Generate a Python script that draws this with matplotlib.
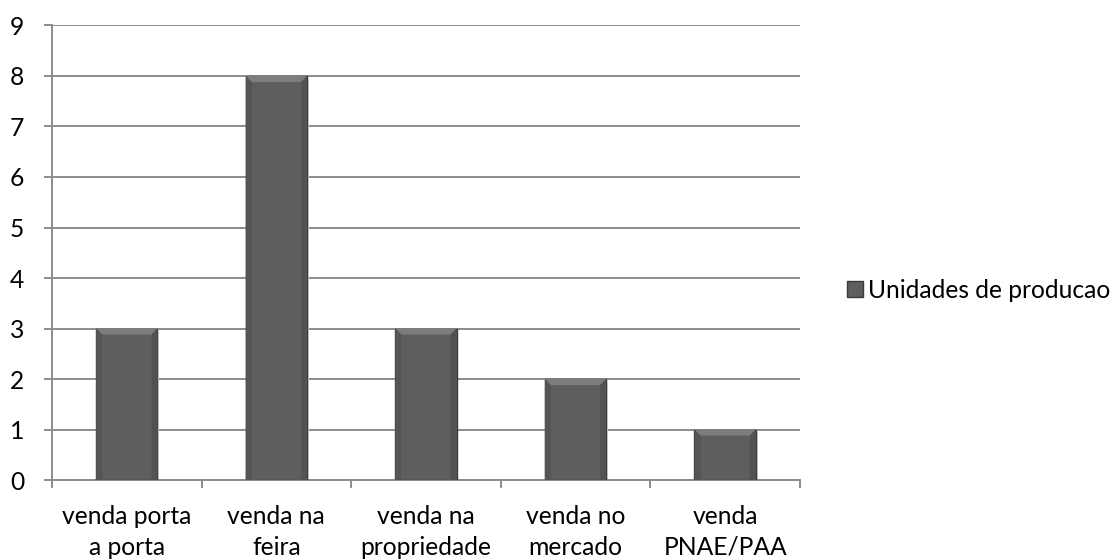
import matplotlib
matplotlib.use("Agg")
import matplotlib.pyplot as plt
from matplotlib.patches import Polygon
from matplotlib.lines import Line2D
import numpy as np

categories = ["venda porta\na porta", "venda na\nfeira", "venda na\npropriedade",
              "venda no\nmercado", "venda\nPNAE/PAA"]
values = [3, 8, 3, 2, 1]
series_name = "Unidades de producao"
y_ticks = list(range(0, 10))

plt.rcParams['font.family'] = ['Lato', 'DejaVu Sans']
FS = 17.7

fig = plt.figure(figsize=(11.11, 5.59), dpi=100)
ax = fig.add_axes([0.0468, 0.1413, 0.6732, 0.8131])

grid_c = "#8c8c8c"
x = np.arange(len(categories))
bar_w = 0.41
bars = ax.bar(x, values, width=bar_w, color="#5e5e5e", edgecolor="#3a3a3a",
              linewidth=1.0, zorder=3)

# Bevel highlight on each bar top and slightly darker sides
bx, by = 0.04, 0.12
for b in bars:
    x0, w, h = b.get_x(), b.get_width(), b.get_height()
    x1 = x0 + w
    top = Polygon([[x0, h], [x1, h], [x1 - bx, h - by], [x0 + bx, h - by]],
                  closed=True, facecolor="#7d7d7d", edgecolor="none", zorder=4)
    left = Polygon([[x0, 0], [x0, h], [x0 + bx, h - by], [x0 + bx, 0]],
                   closed=True, facecolor="#555555", edgecolor="none", zorder=4)
    right = Polygon([[x1, 0], [x1, h], [x1 - bx, h - by], [x1 - bx, 0]],
                    closed=True, facecolor="#525252", edgecolor="none", zorder=4)
    for p in (top, left, right):
        ax.add_patch(p)
    # soft shadow to the right
    sh = Polygon([[x1, 0.02], [x1 + 0.012, 0.02], [x1 + 0.012, h - 0.05], [x1, h - 0.05]],
                 closed=True, facecolor="#dcdcdc", edgecolor="none", zorder=2)
    ax.add_patch(sh)

ax.set_xlim(-0.5, len(categories) - 0.5)
ax.set_ylim(0, 9)
ax.set_yticks(y_ticks)
ax.yaxis.grid(True, color=grid_c, linewidth=1.4, zorder=0)
ax.set_axisbelow(True)

ax.set_xticks(x)
ax.set_xticklabels(categories, fontsize=FS, color="#000000", linespacing=1.42)
ax.set_xticks(np.arange(-0.5, len(categories) + 0.5, 1.0), minor=True)
ax.tick_params(axis="x", which="major", length=0, pad=18)
ax.tick_params(axis="x", which="minor", length=6, width=1.4, color=grid_c, direction="out")
ax.tick_params(axis="y", length=6, width=1.4, color=grid_c, labelsize=FS, pad=14)

for s in ("top", "right"):
    ax.spines[s].set_visible(False)
for s in ("left", "bottom"):
    ax.spines[s].set_color(grid_c)
    ax.spines[s].set_linewidth(1.4)

handle = Line2D([], [], marker="s", linestyle="none", markersize=11,
                markerfacecolor="#5e5e5e", markeredgecolor="#3a3a3a")
fig.legend([handle], [series_name], loc="center left", bbox_to_anchor=(0.745, 0.481),
           frameon=False, fontsize=FS, handletextpad=0.15, handlelength=0.8,
           borderpad=0.2)

fig.savefig("out.png", dpi=100)
